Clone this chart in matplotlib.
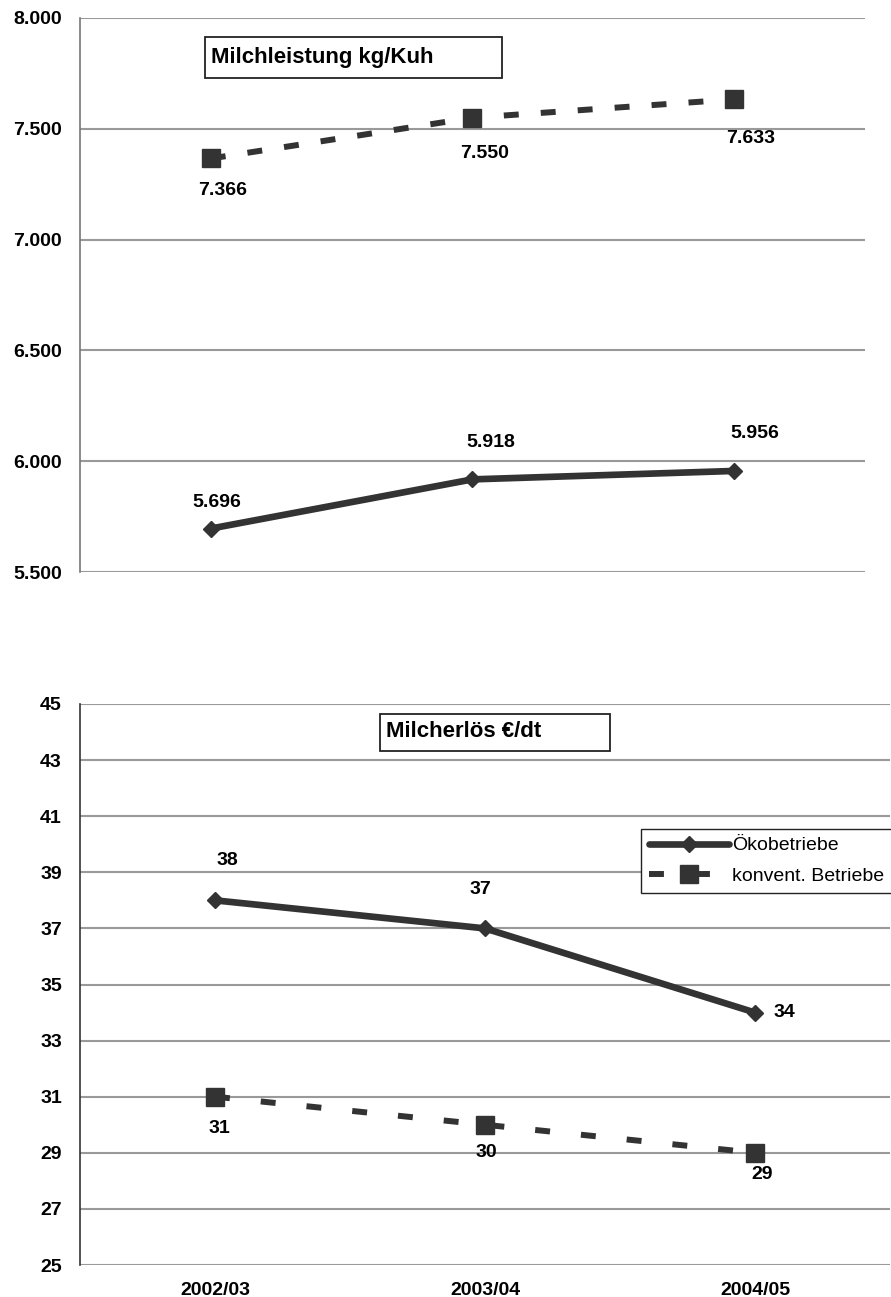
import matplotlib
matplotlib.use("Agg")
import matplotlib.pyplot as plt
from matplotlib.patches import Rectangle
from matplotlib.ticker import FuncFormatter

plt.rcParams['font.family'] = ['Liberation Sans', 'DejaVu Sans']

# ***Data***
years = ["2002/03", "2003/04", "2004/05"]
leistung_oeko = [5696, 5918, 5956]
leistung_konv = [7366, 7550, 7633]
erloes_oeko = [38, 37, 34]
erloes_konv = [31, 30, 29]
series_names = ["Ökobetriebe", "konvent. Betriebe"]
leistung_ticks = [5500, 6000, 6500, 7000, 7500, 8000]
erloes_ticks = [25, 27, 29, 31, 33, 35, 37, 39, 41, 43, 45]

# label offsets in pixels (dx, dy), Excel-like placement
off_l_oeko = [(6, 26), (18, 37), (21, 37)]
off_l_konv = [(12, -32), (12, -36), (16, -39)]
off_e_oeko = [(12, 40), (-5, 39), (29, 0)]
off_e_konv = [(4, -32), (1, -28), (7, -22)]

LINE = '#333333'
GRID = '#999999'
PX = 72 / 100.0  # pixels -> points

fig = plt.figure(figsize=(8.91, 12.97), dpi=100)
ax1 = fig.add_axes([80/891, 1-572/1297, 785/891, 554/1297])
ax2 = fig.add_axes([80/891, 1-1265/1297, 810/891, 561/1297])

x = list(range(len(years)))


def style_axes(ax, ticks, fmt, spine_color):
    ax.set_xlim(-0.5, len(years) - 0.5)
    ax.set_ylim(ticks[0], ticks[-1])
    ax.set_yticks(ticks)
    ax.yaxis.set_major_formatter(FuncFormatter(fmt))
    ax.grid(True, axis='y', color=GRID, linewidth=1.5)
    ax.set_axisbelow(True)
    for s in ['top', 'right', 'bottom']:
        ax.spines[s].set_visible(False)
    ax.spines['left'].set_color(spine_color)
    ax.spines['left'].set_linewidth(1.2)
    ax.tick_params(axis='y', length=0, pad=13, labelsize=14)
    ax.tick_params(axis='x', length=0)
    for lab in ax.get_yticklabels():
        lab.set_fontweight('bold')


def draw_series(ax, solid, dashed, dash):
    l1, = ax.plot(x, solid, color=LINE, linewidth=4.8, marker='D',
                  markersize=8.5, solid_capstyle='round', label=series_names[0])
    l2, = ax.plot(x, dashed, color=LINE, linewidth=4.3, marker='s',
                  markersize=12.5, linestyle=(0, dash),
                  dash_capstyle='butt', label=series_names[1])
    return l1, l2


def add_labels(ax, vals, offs, fmt):
    for xi, v, (dx, dy) in zip(x, vals, offs):
        ax.annotate(fmt(v), (xi, v), xytext=(dx * PX, dy * PX),
                    textcoords='offset points', ha='center', va='center',
                    fontsize=14, fontweight='bold')


def thousands(v, pos=None):
    return f"{int(v):,}".replace(",", ".")


def plain(v, pos=None):
    return f"{int(v)}"


# ***Top chart: Milchleistung***
style_axes(ax1, leistung_ticks, thousands, '#777777')
ax1.set_xticks(x)
ax1.set_xticklabels([])
draw_series(ax1, leistung_oeko, leistung_konv, (2.5, 3.7))
add_labels(ax1, leistung_oeko, off_l_oeko, thousands)
add_labels(ax1, leistung_konv, off_l_konv, thousands)
ax1.add_patch(Rectangle((125/785, 494/554), 297/785, 41/554,
                        transform=ax1.transAxes, facecolor='white',
                        edgecolor='#222222', linewidth=1.3, zorder=5))
ax1.text(131/785, 515/554, "Milchleistung kg/Kuh", transform=ax1.transAxes,
         ha='left', va='center', fontsize=16, fontweight='bold', zorder=6)

# ***Bottom chart: Milcherlös***
style_axes(ax2, erloes_ticks, plain, '#333333')
ax2.set_xticks(x)
ax2.set_xticklabels(years, fontsize=14, fontweight='bold',
                    family=['Liberation Sans Narrow', 'Liberation Sans'])
ax2.tick_params(axis='x', pad=12)
l1, l2 = draw_series(ax2, erloes_oeko, erloes_konv, (2.5, 5.2))
add_labels(ax2, erloes_oeko, off_e_oeko, plain)
add_labels(ax2, erloes_konv, off_e_konv, plain)
ax2.add_patch(Rectangle((300/810, 514/561), 230/810, 37/561,
                        transform=ax2.transAxes, facecolor='white',
                        edgecolor='#222222', linewidth=1.3, zorder=5))
ax2.text(306/810, 533/561, "Milcherlös €/dt", transform=ax2.transAxes,
         ha='left', va='center', fontsize=16, fontweight='bold', zorder=6)

leg = ax2.legend(handles=[l1, l2], loc='upper left',
                 bbox_to_anchor=(561/810, 436/561), borderaxespad=0,
                 fontsize=14, frameon=True, fancybox=False, framealpha=1,
                 edgecolor='#222222', handlelength=4.15, handletextpad=0.15,
                 borderpad=0.4, labelspacing=0.68)
leg.get_frame().set_linewidth(1.0)

fig.savefig("out.png", dpi=100)
